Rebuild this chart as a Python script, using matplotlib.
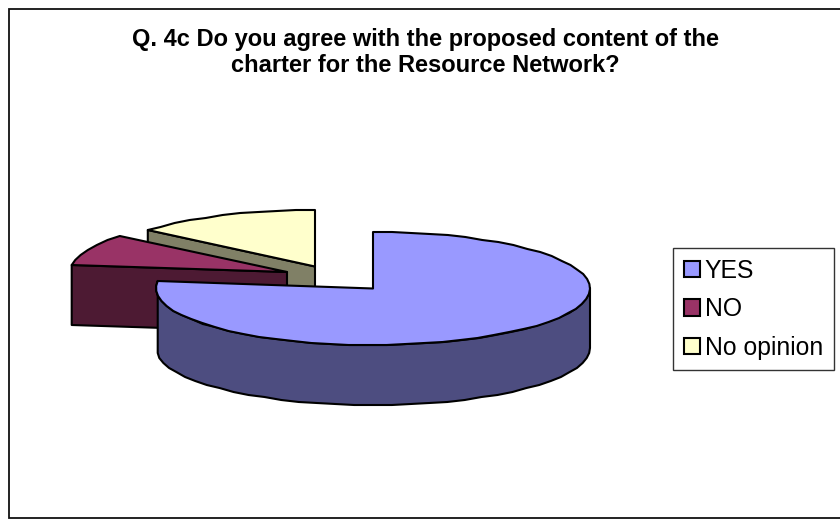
import numpy as np
import matplotlib
matplotlib.use("Agg")
import matplotlib.pyplot as plt
from matplotlib.patches import Polygon, Patch, Rectangle

# Survey responses (percent)
categories = ["YES", "NO", "No opinion"]
values = [77, 9, 14]
title_lines = ["Q. 4c Do you agree with the proposed content of the",
               "charter for the Resource Network?"]

top_colors = ["#9999FF", "#993366", "#FFFFCC"]
side_colors = ["#4D4D80", "#4D1A33", "#808066"]

# Pie geometry in pixel space
RX, RY, DEPTH = 217, 56.5, 60
APEX = {"YES": (373, 288.5), "NO": (287, 272), "No opinion": (315, 266.5)}

plt.rcParams["font.family"] = ["Liberation Sans", "DejaVu Sans"]
fig = plt.figure(figsize=(8.4, 5.19), dpi=100)
ax = fig.add_axes([0, 0, 1, 1])
ax.set_xlim(0, 840)
ax.set_ylim(519, 0)
ax.axis("off")

ax.add_patch(Rectangle((8.5, 8.5), 850, 509.5, fc="white", ec="#111111", lw=1.3, zorder=0))


def rim(name, a0, a1, step=5.0):
    """Clockwise rim points of a slice, angles in degrees from twelve o'clock."""
    n = max(2, int(round((a1 - a0) / step)) + 1)
    t = np.radians(np.linspace(a0, a1, n))
    cx, cy = APEX[name]
    return np.column_stack([cx + RX * np.sin(t), np.round(cy - RY * np.cos(t))])


fractions = np.array(values) / sum(values) * 360
starts = np.concatenate([[0], np.cumsum(fractions)[:-1]])
ends = np.cumsum(fractions)
style = dict(lw=1.5, joinstyle="round")
drop = np.array([0, DEPTH])

# Back slices first so the large slice overlaps them
order = [2, 1, 0]
for z, i in enumerate(order):
    name = categories[i]
    a0, a1 = starts[i], ends[i]
    apex = np.array(APEX[name])
    if name == "YES":
        upper = rim(name, 90, a1)
        lower = rim(name, 90, 270) + drop
        # The side wall ends in a straight vertical at the slice's left corner
        lower[:, 0] = np.maximum(lower[:, 0], upper[-1][0])
        wall = np.vstack([upper, lower[::-1]])
    else:
        edge = rim(name, a0, a0, 1)[0]
        wall = np.array([apex, edge, edge + drop, apex + drop])
    ax.add_patch(Polygon(wall, closed=True, fc=side_colors[i], ec="black", zorder=z * 2 + 1, **style))
    top = np.vstack([apex, rim(name, a0, a1)])
    ax.add_patch(Polygon(top, closed=True, fc=top_colors[i], ec="black", zorder=z * 2 + 2, **style))

for y, line in zip((39.5, 65.5), title_lines):
    ax.text(425.5, y, line, ha="center", va="center", fontsize=13 * 585 / 447, fontweight="bold", color="black")

handles = [Patch(fc=c, ec="black", lw=1.5) for c in top_colors]
leg = ax.legend(handles, categories, loc="upper left",
                bbox_to_anchor=(673 / 840, 1 - 248 / 519), borderaxespad=0,
                fontsize=17.8, frameon=True, fancybox=False, framealpha=1,
                edgecolor="#333333", handlelength=0.65, handleheight=0.65,
                handletextpad=0.2, labelspacing=0.59, borderpad=0.43)
leg.get_frame().set_linewidth(1.0)
leg.set_zorder(20)

fig.savefig("out.png", dpi=100)
